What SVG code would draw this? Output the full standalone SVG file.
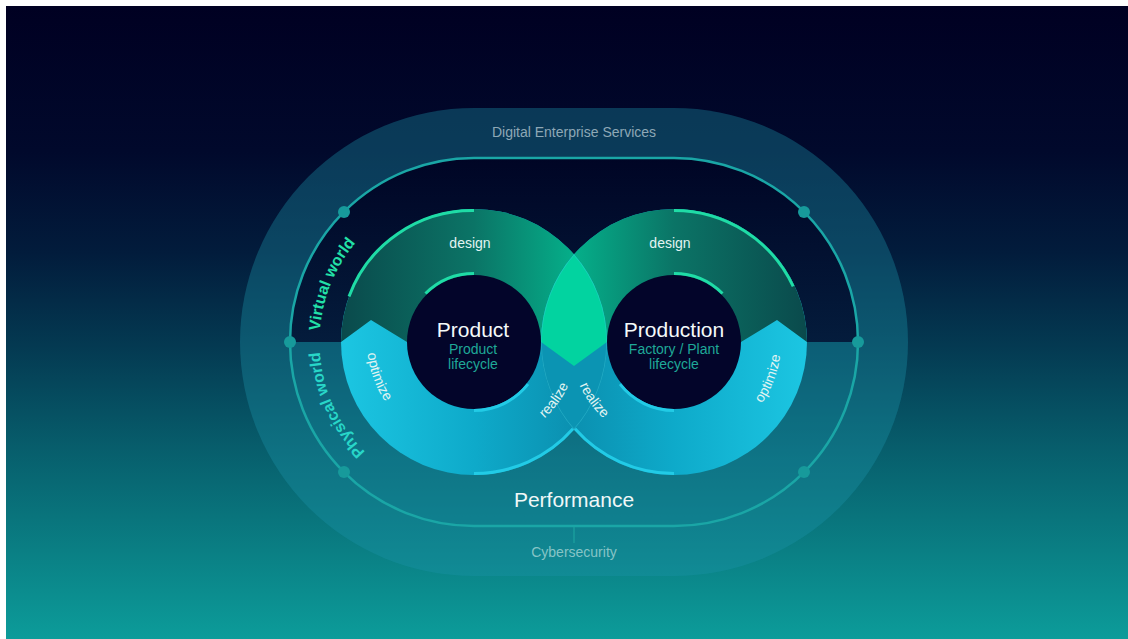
<svg xmlns="http://www.w3.org/2000/svg" width="1128" height="639" viewBox="0 0 1128 639">
<style>
text{font-family:"Liberation Sans",Arial,sans-serif}
.small{font-size:14px}
.title{font-size:21px;fill:#f4fafa}
.sub{font-size:14px;fill:#1fa898}
.lbl{font-size:14px;fill:#e2f4f2}
.world{font-size:16px;font-weight:bold}
.hlg{fill:none;stroke:#1fdca6;stroke-width:3}
.hlc{fill:none;stroke:#22cbe6;stroke-width:3}
.dot{fill:#179a9b}
</style>
<defs>
<linearGradient id="bg" x1="0" y1="6" x2="0" y2="639" gradientUnits="userSpaceOnUse">
<stop offset="0" stop-color="#000022"/>
<stop offset="0.23" stop-color="#01092c"/>
<stop offset="0.39" stop-color="#021c3c"/>
<stop offset="0.54" stop-color="#043a52"/>
<stop offset="0.70" stop-color="#075e6c"/>
<stop offset="0.86" stop-color="#0a7f84"/>
<stop offset="1" stop-color="#0c9c9a"/>
</linearGradient>
<linearGradient id="darkTop" x1="0" y1="158" x2="0" y2="342" gradientUnits="userSpaceOnUse">
<stop offset="0" stop-color="#000525"/>
<stop offset="1" stop-color="#041c3c"/>
</linearGradient>
<linearGradient id="gL" x1="341" y1="0" x2="607" y2="0" gradientUnits="userSpaceOnUse">
<stop offset="0" stop-color="#0a4a4c"/>
<stop offset="0.5" stop-color="#0b7466"/>
<stop offset="1" stop-color="#03c295"/>
</linearGradient>
<linearGradient id="gR" x1="807" y1="0" x2="541" y2="0" gradientUnits="userSpaceOnUse">
<stop offset="0" stop-color="#0a4a4c"/>
<stop offset="0.5" stop-color="#0b7466"/>
<stop offset="1" stop-color="#03c295"/>
</linearGradient>
<linearGradient id="cL" x1="341" y1="0" x2="607" y2="0" gradientUnits="userSpaceOnUse">
<stop offset="0" stop-color="#1cc6e2"/>
<stop offset="0.5" stop-color="#0eaaca"/>
<stop offset="1" stop-color="#0a88a8"/>
</linearGradient>
<linearGradient id="cR" x1="807" y1="0" x2="541" y2="0" gradientUnits="userSpaceOnUse">
<stop offset="0" stop-color="#1cc6e2"/>
<stop offset="0.5" stop-color="#0eaaca"/>
<stop offset="1" stop-color="#0a88a8"/>
</linearGradient>
<clipPath id="discL"><circle cx="474" cy="342" r="133"/></clipPath>
<clipPath id="discR"><circle cx="674" cy="342" r="133"/></clipPath>
<clipPath id="lens"><path d="M574,254.3 A133,133 0 0 1 574,429.7 A133,133 0 0 1 574,254.3 Z"/></clipPath>
<path id="pVirtual" d="M327.1,389.7 A154.5,154.5 0 0 1 401.5,205.6"/>
<path id="pPhysical" d="M408.7,482 A154.5,154.5 0 0 1 325.5,299.4"/>
<path id="pOptL" d="M373.5,305.4 A107,107 0 0 0 420.5,434.7"/>
<path id="pOptR" d="M725.9,435.6 A107,107 0 0 0 775.2,307.2"/>
<path id="pRealL" d="M499.2,442.9 A104,104 0 0 0 577.7,334.7"/>
<path id="pRealR" d="M570.3,334.7 A104,104 0 0 0 648.8,442.9"/>
</defs>

<rect width="1128" height="639" fill="#ffffff"/>
<rect x="6" y="6" width="1122" height="633" fill="url(#bg)"/>

<g id="digital-enterprise-services">
<path d="M474,108 L674,108 A234,234 0 0 1 674,576 L474,576 A234,234 0 0 1 474,108 Z" fill="#1c94a8" fill-opacity="0.36"/>
<text class="small" x="574" y="137" text-anchor="middle" fill="#8ea8b6">Digital Enterprise Services</text>
</g>

<g id="virtual-world">
<path d="M290,342 A184,184 0 0 1 474,158 L674,158 A184,184 0 0 1 858,342 Z" fill="url(#darkTop)"/>
<text class="world" fill="#22e0a8"><textPath href="#pVirtual" startOffset="50%" text-anchor="middle">Virtual world</textPath></text>
</g>

<g id="physical-world">
<path d="M290,342 A184,184 0 0 0 474,526 L674,526 A184,184 0 0 0 858,342 Z" fill="#1080a0" fill-opacity="0.12"/>
<text class="world" fill="#28d6c8"><textPath href="#pPhysical" startOffset="50%" text-anchor="middle">Physical world</textPath></text>
<text x="574" y="507" text-anchor="middle" font-size="21" fill="#f0f8f8">Performance</text>
</g>

<g id="connectors">
<path d="M474,158 L674,158 A184,184 0 0 1 674,526 L474,526 A184,184 0 0 1 474,158 Z" fill="none" stroke="#1aa6a6" stroke-width="2.5"/>
<line x1="574" y1="527" x2="574" y2="543" stroke="#1a9c9c" stroke-width="1.5"/>
<circle class="dot" cx="344" cy="212" r="6"/>
<circle class="dot" cx="290" cy="342" r="6"/>
<circle class="dot" cx="344" cy="472" r="6"/>
<circle class="dot" cx="804" cy="212" r="6"/>
<circle class="dot" cx="858" cy="342" r="6"/>
<circle class="dot" cx="804" cy="472" r="6"/>
</g>

<g id="cybersecurity">
<text class="small" x="574" y="557" text-anchor="middle" fill="#86c4c6">Cybersecurity</text>
</g>

<g id="product-ring">
<circle cx="474" cy="342" r="133" fill="url(#cL)"/>
<polygon clip-path="url(#discL)" points="330,342 341,342 371,320 407,342 541,342 574,366 607,342 620,342 620,200 330,200" fill="url(#gL)"/>
</g>

<g id="production-ring">
<circle cx="674" cy="342" r="133" fill="url(#cR)"/>
<polygon clip-path="url(#discR)" points="528,342 541,342 574,366 607,342 741,342 777,320 807,342 820,342 820,200 528,200" fill="url(#gR)"/>
</g>

<g id="overlap" clip-path="url(#lens)">
<rect x="530" y="250" width="90" height="190" fill="#0b94b3"/>
<polygon points="530,342 541,342 574,366 607,342 620,342 620,250 530,250" fill="#02d3a0"/>
<circle cx="474" cy="342" r="133" fill="none" stroke="#4fd6e6" stroke-opacity="0.35" stroke-width="1.5"/>
<circle cx="674" cy="342" r="133" fill="none" stroke="#4fd6e6" stroke-opacity="0.35" stroke-width="1.5"/>
</g>

<g id="highlights">
<path class="hlg" d="M349,296.5 A131.5,131.5 0 0 1 474,210.5"/>
<path class="hlg" d="M674,210.5 A131.5,131.5 0 0 1 793.2,286.4"/>
<path class="hlc" d="M573,428.8 A131.5,131.5 0 0 1 474,473.5"/>
<path class="hlc" d="M674,473.5 A131.5,131.5 0 0 1 575,428.8"/>
</g>

<g id="product">
<circle cx="474" cy="342" r="67" fill="#03052a"/>
<path class="hlg" d="M425.5,293.5 A68.5,68.5 0 0 1 474,273.5"/>
<path class="hlc" d="M528,384.2 A68.5,68.5 0 0 1 474,410.5"/>
<text class="title" x="473" y="337" text-anchor="middle">Product</text>
<text class="sub" x="473" y="354" text-anchor="middle">Product</text>
<text class="sub" x="473" y="369" text-anchor="middle">lifecycle</text>
<text class="lbl" x="470" y="248" text-anchor="middle">design</text>
<text class="lbl"><textPath href="#pOptL" startOffset="50%" text-anchor="middle">optimize</textPath></text>
<text class="lbl"><textPath href="#pRealL" startOffset="50%" text-anchor="middle">realize</textPath></text>
</g>

<g id="production">
<circle cx="674" cy="342" r="67" fill="#03052a"/>
<path class="hlg" d="M674,273.5 A68.5,68.5 0 0 1 722.5,293.5"/>
<path class="hlc" d="M674,410.5 A68.5,68.5 0 0 1 620,384.2"/>
<text class="title" x="674" y="337" text-anchor="middle">Production</text>
<text class="sub" x="674" y="354" text-anchor="middle">Factory / Plant</text>
<text class="sub" x="674" y="369" text-anchor="middle">lifecycle</text>
<text class="lbl" x="670" y="248" text-anchor="middle">design</text>
<text class="lbl"><textPath href="#pOptR" startOffset="50%" text-anchor="middle">optimize</textPath></text>
<text class="lbl"><textPath href="#pRealR" startOffset="50%" text-anchor="middle">realize</textPath></text>
</g>
</svg>
